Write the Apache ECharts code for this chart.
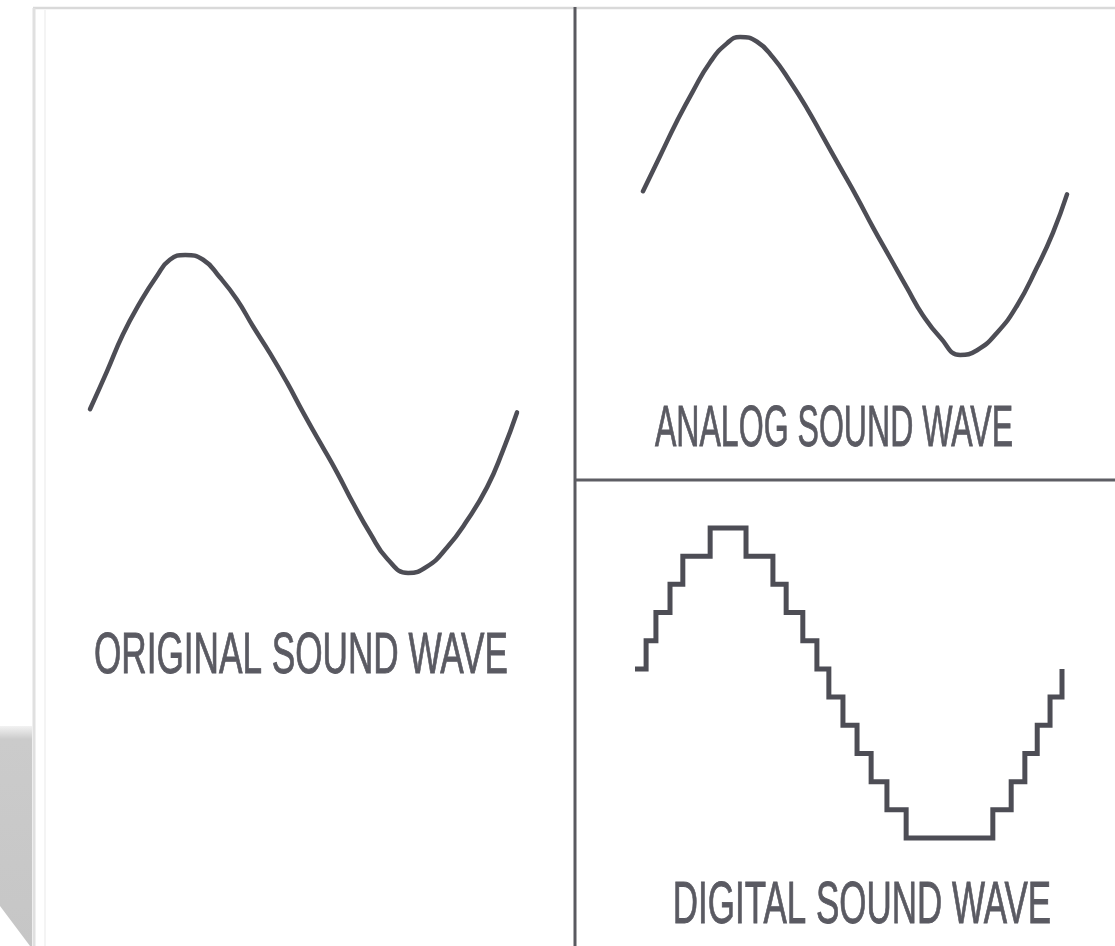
<!DOCTYPE html>
<html>
<head>
<meta charset="utf-8">
<style>
  html, body { margin: 0; padding: 0; background: #ffffff; }
  #chart { width: 1115px; height: 946px; }
</style>
<script src="https://cdn.jsdelivr.net/npm/echarts@6/dist/echarts.min.js"></script>
</head>
<body>
<div id="chart"></div>
<script>
// ---- Data (time in % of the drawn span, amplitude -1..1) ----
const originalT   = [0, 4.0, 7.7, 11.7, 15.7, 18.7, 22.3, 26.5, 30.4, 34.4, 38.2, 42.2, 46.1, 49.9, 53.9, 57.9, 61.6, 65.6, 69.6, 74.5, 78.9, 83.6, 88.3, 93.0, 96.7, 100];
const originalAmp = [0.03, 0.27, 0.50, 0.70, 0.87, 0.97, 1.00, 0.97, 0.86, 0.72, 0.55, 0.38, 0.20, 0.01, -0.18, -0.37, -0.56, -0.75, -0.91, -1.00, -0.96, -0.84, -0.67, -0.46, -0.23, 0.01];

const analogT   = [0, 4.0, 8.0, 11.8, 15.8, 19.8, 22.9, 26.9, 30.7, 34.7, 38.7, 42.5, 46.5, 50.5, 54.3, 58.3, 62.3, 66.0, 70.1, 74.8, 78.8, 83.5, 88.2, 92.9, 96.7, 100];
const analogAmp = [0.03, 0.25, 0.47, 0.66, 0.84, 0.96, 1.00, 0.97, 0.87, 0.72, 0.55, 0.37, 0.18, -0.01, -0.20, -0.39, -0.58, -0.75, -0.89, -1.00, -0.97, -0.86, -0.69, -0.45, -0.23, 0.01];

// quantised samples: time and level (0..11), each level held until the next sample
const digitalT     = [0, 2.6, 4.9, 8.2, 11.2, 17.6, 26.0, 32.3, 35.4, 39.3, 42.6, 45.4, 48.7, 52.0, 55.3, 59.0, 63.5, 83.8, 88.1, 91.3, 94.2, 97.2, 100];
const digitalLevel = [6, 7, 8, 9, 10, 11, 10, 9, 8, 7, 6, 5, 4, 3, 2, 1, 0, 1, 2, 3, 4, 5, 6];

const panelLabels = ['ORIGINAL SOUND WAVE', 'ANALOG SOUND WAVE', 'DIGITAL SOUND WAVE'];

// ---- Chart ----
const ink = '#4d4d55';
const textInk = '#5a5a62';
const zip = (a, b) => a.map((v, i) => [v, b[i]]);

const chart = echarts.init(document.getElementById('chart'), null, { renderer: 'canvas' });

const hiddenAxis = (extra) => Object.assign({ type: 'value', show: false, splitLine: { show: false } }, extra);
const labelStyle = (text, size) => ({
  text: text, fill: textInk, stroke: textInk, lineWidth: 0.9,
  fontSize: size, fontFamily: 'Liberation Sans, Arial, sans-serif',
  align: 'center', verticalAlign: 'middle'
});

chart.setOption({
  backgroundColor: '#ffffff',
  animation: false,
  grid: [
    { left: 90,  top: 255, width: 427, height: 318 },
    { left: 643, top: 37,  width: 424, height: 318 },
    { left: 635, top: 528, width: 427, height: 310 }
  ],
  xAxis: [
    hiddenAxis({ gridIndex: 0, min: 0, max: 100 }),
    hiddenAxis({ gridIndex: 1, min: 0, max: 100 }),
    hiddenAxis({ gridIndex: 2, min: 0, max: 100 })
  ],
  yAxis: [
    hiddenAxis({ gridIndex: 0, min: -1, max: 1 }),
    hiddenAxis({ gridIndex: 1, min: -1, max: 1 }),
    hiddenAxis({ gridIndex: 2, min: 0, max: 11 })
  ],
  series: [
    {
      name: 'Original', type: 'line', xAxisIndex: 0, yAxisIndex: 0,
      data: zip(originalT, originalAmp), smooth: 0.5, symbol: 'none', clip: false,
      lineStyle: { color: ink, width: 4.5, cap: 'round' }
    },
    {
      name: 'Analog', type: 'line', xAxisIndex: 1, yAxisIndex: 1,
      data: zip(analogT, analogAmp), smooth: 0.5, symbol: 'none', clip: false,
      lineStyle: { color: ink, width: 4.5, cap: 'round' }
    },
    {
      name: 'Digital', type: 'line', xAxisIndex: 2, yAxisIndex: 2,
      data: zip(digitalT, digitalLevel), step: 'end', symbol: 'none', clip: false,
      lineStyle: { color: ink, width: 5, join: 'miter', cap: 'butt' }
    }
  ],
  graphic: [
    // drop shadow at lower left
    {
      type: 'polygon', z: 0,
      shape: { points: [[0, 726], [32, 726], [32, 946], [30, 946], [0, 906]] },
      style: {
        fill: new echarts.graphic.LinearGradient(0, 0, 0, 1, [
          { offset: 0, color: '#f2f2f2' },
          { offset: 0.06, color: '#cbcbcb' },
          { offset: 1, color: '#c6c6c6' }
        ])
      }
    },
    // outer frame (light)
    { type: 'line', shape: { x1: 33, y1: 8, x2: 1115, y2: 8 }, style: { stroke: '#d9d9d9', lineWidth: 2.5 } },
    { type: 'line', shape: { x1: 34, y1: 8, x2: 34, y2: 946 }, style: { stroke: '#e0e0e0', lineWidth: 3 } },
    { type: 'line', shape: { x1: 45, y1: 10, x2: 45, y2: 946 }, style: { stroke: '#f4f4f4', lineWidth: 2 } },
    // panel dividers
    { type: 'line', shape: { x1: 575, y1: 7, x2: 575, y2: 946 }, style: { stroke: '#5a5a60', lineWidth: 3 } },
    { type: 'line', shape: { x1: 575, y1: 480, x2: 1115, y2: 480 }, style: { stroke: '#5e5e64', lineWidth: 3 } },
    // panel labels
    { type: 'text', x: 301, y: 657, scaleX: 0.606, style: labelStyle(panelLabels[0], 58) },
    { type: 'text', x: 834, y: 430, scaleX: 0.553, style: labelStyle(panelLabels[1], 58) },
    { type: 'text', x: 862, y: 906, scaleX: 0.583, style: labelStyle(panelLabels[2], 60) }
  ]
});
</script>
</body>
</html>
